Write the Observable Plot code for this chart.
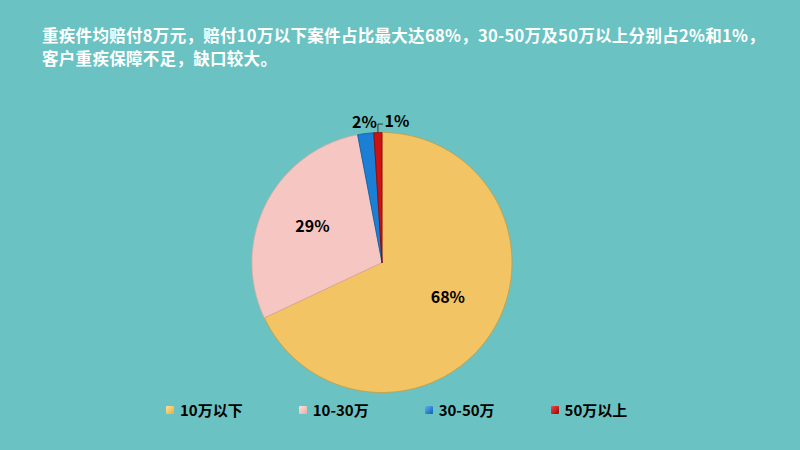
<!DOCTYPE html>
<html>
<head>
<meta charset="utf-8">
<script src="https://cdn.jsdelivr.net/npm/d3@7"></script>
<script src="https://cdn.jsdelivr.net/npm/@observablehq/plot@0.6"></script>
<style>
  html, body { margin: 0; padding: 0; }
  body { width: 800px; height: 450px; background: #6ac3c2; overflow: hidden; font-family: "Noto Sans CJK SC", "Noto Sans", sans-serif; }
  #wrap { position: relative; width: 800px; height: 450px; }
  #title { position: absolute; left: 42px; top: 24px; color: #ffffff; font-weight: bold; font-size: 16.5px; line-height: 23px; white-space: nowrap; letter-spacing: 0.3px; }
  #chart { position: absolute; left: 0; top: 0; }
  #legend { position: absolute; left: 166px; top: 399px; display: flex; gap: 56px; align-items: center; font-weight: bold; font-size: 15px; color: #000; }
  .item { display: flex; align-items: center; white-space: nowrap; }
  .sw { width: 8px; height: 8px; margin-right: 6px; border-radius: 1px; }
</style>
</head>
<body>
<div id="wrap">
  <div id="title"></div>
  <div id="chart"></div>
  <div id="legend"></div>
</div>
<script>
// ---- data ----
const titleLines = [
  "重疾件均赔付8万元，赔付10万以下案件占比最大达68%，30-50万及50万以上分别占2%和1%，",
  "客户重疾保障不足，缺口较大。"
];
const categories = ["10万以下", "10-30万", "30-50万", "50万以上"];
const values = [68, 29, 2, 1];
const labels = ["68%", "29%", "2%", "1%"];
// ---- styles ----
const fills = ["#f2c463", "#f6c7c2", "#1c7fd6", "#cc1212"];
const strokes = ["#c99a3e", "#e0aaa4", "#12609f", "#8e0a0a"];
const swatchGrad = [
  "linear-gradient(135deg,#fbe39a,#e7ae3c)",
  "linear-gradient(135deg,#fde3df,#e6aca6)",
  "linear-gradient(135deg,#5fb0f2,#0e5fae)",
  "linear-gradient(135deg,#f04a4a,#a00000)"
];

document.getElementById("title").innerHTML = titleLines.join("<br>");
document.getElementById("legend").innerHTML = categories.map((c, i) =>
  `<div class="item"><div class="sw" style="background:${swatchGrad[i]}"></div>${c}</div>`).join("");

const arcs = d3.pie().sort(null).startAngle(0).endAngle(2 * Math.PI)(values);
const step = Math.PI / 720;
const slicePts = arcs.map((a, i) => {
  const pts = [{x: 0, y: 0}];
  for (let t = a.startAngle; t < a.endAngle; t += step) pts.push({x: Math.sin(t), y: Math.cos(t)});
  pts.push({x: Math.sin(a.endAngle), y: Math.cos(a.endAngle)});
  pts.push({x: 0, y: 0});
  return pts;
});
const mid = a => (a.startAngle + a.endAngle) / 2;
const inside = arcs.map((a, i) => ({i, a})).filter(d => values[d.i] >= 10)
  .map(d => ({x: 0.6 * Math.sin(mid(d.a)), y: 0.6 * Math.cos(mid(d.a)) + (d.i === 0 ? 0.05 : 0), text: labels[d.i]}));
const a2 = arcs[2], a3 = arcs[3];
const out2 = [{x: 1.08 * Math.sin(mid(a2)), y: 1.08 * Math.cos(mid(a2)), text: labels[2]}];
const m3 = mid(a3);
const leader = [
  {x: Math.sin(m3), y: Math.cos(m3)},
  {x: Math.sin(m3), y: 1.065},
  {x: Math.sin(m3) + 0.035, y: 1.065}
];
const out3 = [{x: leader[2].x, y: leader[2].y + 0.015, text: labels[3]}];

const marks = slicePts.map((pts, i) => Plot.line(pts, {x: "x", y: "y", fill: fills[i], stroke: strokes[i], strokeWidth: 0.9, strokeLinejoin: "round"}));
const lab = {x: "x", y: "y", text: "text", fontSize: 16, fontWeight: "bold", fill: "#000"};
marks.push(Plot.text(inside, lab));
marks.push(Plot.text(out2, lab));
marks.push(Plot.line(leader, {x: "x", y: "y", stroke: "#333", strokeWidth: 1}));
marks.push(Plot.text(out3, {...lab, textAnchor: "start", dx: 2}));

const svg = Plot.plot({
  width: 800,
  height: 450,
  margin: 0,
  style: {background: "transparent", fontFamily: "'Noto Sans CJK SC', 'Noto Sans', sans-serif"},
  x: {domain: [-1, 1], range: [251.5, 511.5], axis: null},
  y: {domain: [-1, 1], range: [392, 132], axis: null},
  marks
});
document.getElementById("chart").appendChild(svg);
</script>
</body>
</html>
